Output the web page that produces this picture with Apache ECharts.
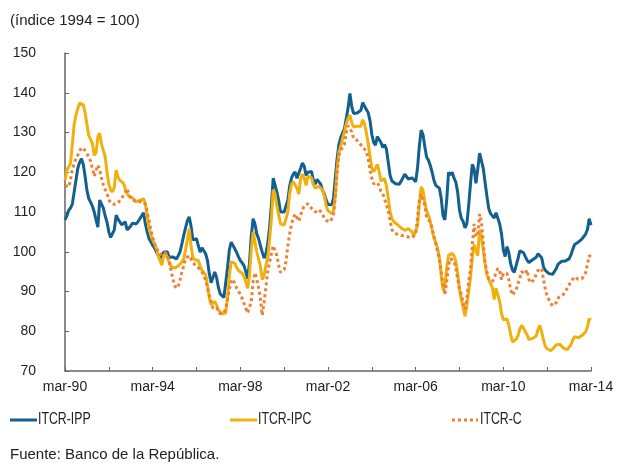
<!DOCTYPE html>
<html>
<head>
<meta charset="utf-8">
<script src="https://cdn.jsdelivr.net/npm/echarts@6/dist/echarts.min.js"></script>
<style>
  html, body { margin: 0; padding: 0; background: #fff; }
  #chart { width: 617px; height: 463px; }
</style>
</head>
<body>
<div id="chart"></div>
<script>
// Índice de la tasa de cambio real, mensual, mar-1990 a mar-2014 (1994 = 100)
const startYear = 1990;
const startMonth = 2; // marzo (0 = enero)
const monthNames = ['ene', 'feb', 'mar', 'abr', 'may', 'jun', 'jul', 'ago', 'sep', 'oct', 'nov', 'dic'];
const tickLabels = ['mar-90', 'mar-94', 'mar-98', 'mar-02', 'mar-06', 'mar-10', 'mar-14'];

const itcrIPP = [
  108, 109, 110.4, 111, 112, 115, 118, 121, 122.5, 123.4, 122, 119,
  115.5, 113.4, 112.5, 111.5, 110, 108, 106.2, 113, 112.5, 111, 109, 107.5,
  105, 103.6, 103.3, 105.5, 109.2, 108.2, 107.5, 106.8, 106.4, 107.5, 105.5, 105.2,
  106.5, 107.2, 107.5, 107, 107.6, 108.3, 108.8, 109.8, 107, 105, 103.3, 102.5,
  101.6, 101, 100, 99.2, 98.2, 99, 99.9, 99.5, 100, 98.6, 98.5, 98.7,
  98.6, 98.2, 99, 100, 102, 104.1, 106, 107.8, 108.8, 106.5, 103, 102.9,
  103.3, 101.5, 99.9, 101, 100.5, 99.5, 97.8, 94.5, 92.2, 92.5, 94.9, 93.5,
  91, 89.4, 89, 88.5, 88.2, 96, 100.5, 102.4, 101.6, 101.2, 99.8, 98.7,
  97.8, 97.2, 96.5, 95, 93.2, 97, 104, 108.3, 107, 104.5, 103.3, 101.5,
  99.9, 98.4, 99.5, 102, 106, 111.7, 118.5, 118, 115, 112.9, 110, 110,
  110, 110.2, 113, 116.5, 118.5, 119.5, 120.1, 118.5, 119, 121, 122.3, 121.5,
  119.2, 120, 120.3, 120.2, 118, 117, 118.2, 118.5, 117, 115.5, 114.5, 113,
  111.9, 111.5, 111.8, 113.4, 118.5, 123.5, 127, 128.8, 129.3, 131, 133.5, 136.2,
  139.8, 136.5, 134.8, 134.4, 134.9, 135.3, 135.6, 137.5, 137, 135.8, 135, 133,
  129.5, 127.5, 126.8, 129, 129.2, 127.5, 126.2, 127, 125.8, 122.5, 119.2, 117.8,
  117.3, 117.1, 116.8, 117, 117.7, 118.6, 119.5, 119, 118.3, 118.8, 118.6, 118.2,
  117.6, 121, 126.5, 130.6, 129.5, 126.5, 123.8, 123, 121.7, 120, 118, 116.7,
  117, 116, 113.4, 109, 108, 113, 120, 119.3, 120, 118.5, 117.5, 115,
  110.5, 108.4, 107.6, 106, 107, 111.5, 117, 122, 120.8, 117.2, 120.8, 124.8,
  124.5, 121, 117.5, 114, 110.9, 109.6, 109.8, 108.5, 109.8, 109.5, 107, 104.5,
  100.5, 98.8, 101.3, 99.8, 97, 95.4, 94.8, 96.5, 98.2, 100.2, 100.5, 99.8,
  99.5, 97.9, 97.3, 97.5, 98, 98.3, 98.6, 99.5, 99.8, 98.5, 96.2, 95.3,
  94.9, 94.5, 94.3, 94.3, 94.8, 95.8, 96.9, 97.1, 97.6, 97.9, 97.7, 97.6,
  98.2, 99.2, 100.6, 101.8, 102.2, 102.4, 102.8, 103.2, 103.8, 104.4, 105.5, 108.3,
  106.7
];

const itcrIPC = [
  118, 120.5, 121, 122.2, 127, 132, 134.4, 136, 137.4, 137.8, 137, 135,
  132, 129.3, 128.3, 127.2, 124.2, 125, 129, 129.8, 127, 125.5, 123.9, 120,
  117, 115.6, 115, 116.3, 120.5, 118.8, 118, 117.6, 117.2, 116.7, 114.6, 114,
  113.7, 113.5, 113, 112.6, 112.7, 112.9, 113.2, 113.4, 112, 109, 106, 104.2,
  103, 102, 100.9, 99.1, 97.8, 96.6, 99, 99.6, 98.6, 97.4, 96.3, 95.8,
  95.9, 96.1, 96.4, 96.6, 97.4, 98.2, 100.5, 103, 105.8, 101.6, 98.6, 98,
  97.6, 97.8, 96.5, 95.3, 95, 94.2, 91.5, 88.5, 86.6, 86.3, 87.5, 86.6,
  85.3, 84.8, 84.4, 84, 84.6, 88.5, 94, 97.5, 97.6, 97.1, 96, 95.3,
  95, 94.6, 93.8, 92.5, 90.8, 94, 100.5, 105, 102.5, 100, 98.2, 96.3,
  93, 94, 96.6, 98.6, 103, 108.3, 115.6, 114.5, 111.5, 109.2, 107, 106.8,
  106.7, 107.2, 110, 114.5, 117, 117.6, 118, 116, 114.5, 118.3, 119.5, 118.5,
  116.7, 119, 119.2, 118.6, 116.9, 116, 116.3, 116.5, 116.2, 115.5, 114, 111.5,
  110.3, 109.9, 109.6, 110.3, 114, 121, 125.1, 126.6, 128.5, 130.2, 132.2, 133.6,
  134.4, 132.5, 131.4, 131, 131.6, 131.4, 131.6, 133.2, 132.2, 130, 127.3, 124,
  121, 120.1, 121, 122, 120.2, 117.8, 117.5, 118.4, 116.5, 113.5, 110, 108.3,
  107.6, 107.1, 106.8, 106.4, 106, 105.7, 105.4, 105.6, 105.8, 105.4, 105, 104,
  103.8, 106.5, 112, 116.3, 115.4, 112.5, 110.2, 109.2, 107.6, 105.5, 103.5, 102.4,
  100.9, 98.5, 94, 90.5, 91.5, 96, 99.1, 98.6, 99.6, 99, 97.6, 94.5,
  90.5, 88, 86, 83.8, 86.5, 90, 93.5, 98.4, 101.8, 101.5, 99, 105.5,
  104, 100.5, 97, 94.2, 93, 92.7, 91, 88, 90.8, 90.5, 87.5, 84.5,
  82.9, 83.1, 83.1, 81.5, 79.2, 77.3, 76.8, 78, 78.8, 80.5, 81.5, 80.8,
  80.8, 79.1, 77.9, 78.4, 78.2, 77.8, 78.8, 80.5, 81.5, 79.8, 77.8, 76.2,
  75.6, 75.3, 75.1, 75.4, 76, 76.6, 76.8, 76.7, 76.3, 75.7, 75.4, 75.4,
  76, 76.6, 77.8, 78.6, 78.3, 78.4, 78.6, 78.9, 79.1, 79.8, 81, 83.1,
  82.8
];

const itcrC = [
  116.7, 116.5, 116.3, 118, 120.8, 122, 123.5, 124.3, 125.3, 126.2, 126, 125.5,
  124.7, 123.9, 122.8, 121, 119, 119.5, 121.8, 120.5, 118.5, 116.8, 115.7, 114.6,
  113.2, 112.2, 111.8, 111.9, 112, 112.3, 112.5, 113.4, 114.2, 115, 115.9, 114.5,
  113.5, 113, 112.8, 112.5, 112.5, 112.5, 112.7, 112.9, 112, 110, 108, 105.5,
  103.7, 102, 101, 100, 99.2, 99.5, 99.9, 99.9, 99.5, 97.6, 95.5, 93.3,
  91.5, 90.8, 91.4, 93, 94.9, 96.5, 98.3, 98.8, 99, 98.2, 97.2, 96.7,
  96.4, 96.1, 95.5, 94.9, 94, 92.8, 91, 89, 87.5, 85.8, 86.2, 86,
  85, 84.4, 84, 84.6, 85.8, 88, 90.5, 92.4, 93.1, 92, 90.8, 90,
  89.4, 88.2, 87, 85.8, 84.6, 84.5, 87.5, 92.5, 94.7, 93.1, 91, 88.2,
  84, 87.3, 91, 95, 97.3, 99.5, 101.5, 101, 99, 96.6, 94.8, 94.3,
  95.5, 97.5, 101.5, 104.5, 106.9, 108.5, 109.5, 108.6, 107.7, 107.8, 110.6, 111.5,
  111.9, 112.1, 111.7, 110.9, 110.4, 110, 110.5, 110.6, 110.2, 109.5, 108.5, 107.9,
  107.5, 107.5, 107.5, 109, 114, 120, 124.3, 125.5, 125.5, 127, 130, 131.7,
  131.5, 130.2, 128.5, 128.3, 128, 127.3, 126.8, 126.5, 126, 125.2, 123.5, 120.5,
  118.5, 117.1, 116.7, 117.4, 116.5, 115.2, 114.6, 113.2, 111.8, 110.3, 107.8, 105.6,
  104.8, 104.7, 104.4, 104.2, 104.1, 104.1, 104, 103.7, 103.7, 103.7, 103.5, 103.3,
  104.5, 108.5, 113.2, 114.5, 113, 111.7, 108.5, 108.6, 107.5, 105.8, 104, 102,
  100, 98.2, 95, 91.5, 89.2, 92.5, 96.5, 98.3, 98.8, 97.7, 95.8, 93.2,
  90.5, 89.4, 87, 85.5, 88, 92.5, 95.5, 101.5, 107, 103.8, 104.5, 109.5,
  107.5, 102.5, 97.1, 95, 93.2, 92.8, 92.5, 93.4, 94.8, 95.8, 95.2, 93,
  94.5, 95, 94.6, 93, 90.5, 89.1, 88.7, 90.4, 92, 93.3, 95, 94.6,
  94.4, 95.4, 93, 92.2, 92.5, 93, 94.4, 95.3, 95.6, 95.8, 93, 90.5,
  88.8, 87.9, 87, 86.4, 86.2, 87.2, 88.3, 88.9, 89.1, 89.3, 90, 90.8,
  91.6, 92.5, 93.1, 93.7, 93.4, 93.1, 92.9, 93.2, 93.8, 94.6, 96.8, 99,
  98.8
];

// Etiquetas mensuales del eje de categorías: "mar-90", "abr-90", ...
const months = itcrIPP.map((_, i) => {
  const m = (startMonth + i) % 12;
  const y = startYear + Math.floor((startMonth + i) / 12);
  return monthNames[m] + '-' + String(y).slice(2);
});

const COLOR_IPP = '#13608f';
const COLOR_IPC = '#efb10e';
const COLOR_C = '#ef7f32';
const textFont = "'Liberation Sans', Arial, sans-serif";

const chart = echarts.init(document.getElementById('chart'), null, { renderer: 'canvas' });

// texto de leyenda, comprimido en horizontal
function legendText(x, text) {
  return {
    type: 'text', x: x, y: 420, scaleX: 0.77, scaleY: 1,
    style: { text: text, fill: '#222', font: '16px ' + textFont, textVerticalAlign: 'middle' }
  };
}

chart.setOption({
  animation: false,
  backgroundColor: '#ffffff',
  grid: { left: 65, right: 26, top: 53, bottom: 92 },
  xAxis: {
    type: 'category',
    data: months,
    boundaryGap: false,
    axisLine: { lineStyle: { color: '#666', width: 1.5 } },
    axisTick: {
      inside: true,
      length: 4,
      interval: (i) => i % 24 === 0,
      lineStyle: { color: '#666', width: 1 }
    },
    axisLabel: {
      interval: (i) => i % 48 === 0,
      formatter: (v) => (tickLabels.indexOf(v) >= 0 ? v : ''),
      color: '#222',
      fontSize: 14,
      fontFamily: textFont,
      margin: 9,
      showMaxLabel: true
    },
    splitLine: { show: false }
  },
  yAxis: {
    type: 'value',
    min: 70,
    max: 150,
    interval: 10,
    axisLine: { show: true, lineStyle: { color: '#666', width: 1.5 } },
    axisTick: { show: true, inside: true, length: 4, lineStyle: { color: '#666', width: 1 } },
    axisLabel: { color: '#222', fontSize: 14, fontFamily: textFont, margin: 29 },
    splitLine: { show: false }
  },
  series: [
    {
      name: 'ITCR-IPP',
      type: 'line',
      data: itcrIPP,
      showSymbol: false,
      lineStyle: { color: COLOR_IPP, width: 3 },
      itemStyle: { color: COLOR_IPP },
      z: 2
    },
    {
      name: 'ITCR-IPC',
      type: 'line',
      data: itcrIPC,
      showSymbol: false,
      lineStyle: { color: COLOR_IPC, width: 3 },
      itemStyle: { color: COLOR_IPC },
      z: 3
    },
    {
      name: 'ITCR-C',
      type: 'line',
      data: itcrC,
      showSymbol: false,
      lineStyle: { color: COLOR_C, width: 3, type: [3, 3], cap: 'butt' },
      itemStyle: { color: COLOR_C },
      z: 4
    }
  ],
  graphic: [
    {
      type: 'text', left: 10, top: 13,
      style: { text: '(índice 1994 = 100)', fill: '#222', font: '15px ' + textFont }
    },
    // leyenda
    { type: 'line', shape: { x1: 10, y1: 420, x2: 37, y2: 420 }, style: { stroke: COLOR_IPP, lineWidth: 3 } },
    legendText(38, 'ITCR-IPP'),
    { type: 'line', shape: { x1: 230, y1: 420, x2: 257, y2: 420 }, style: { stroke: COLOR_IPC, lineWidth: 3 } },
    legendText(258, 'ITCR-IPC'),
    { type: 'line', shape: { x1: 452, y1: 420, x2: 478, y2: 420 }, style: { stroke: COLOR_C, lineWidth: 3, lineDash: [3, 3] } },
    legendText(480, 'ITCR-C'),
    {
      type: 'text', left: 10, top: 447,
      style: { text: 'Fuente: Banco de la República.', fill: '#222', font: '15px ' + textFont }
    }
  ]
});
</script>
</body>
</html>
